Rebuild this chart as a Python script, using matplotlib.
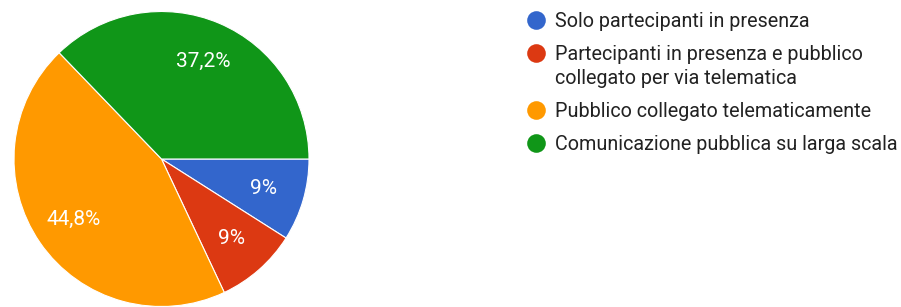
import matplotlib.pyplot as plt

plt.rcParams['font.family'] = ['Roboto', 'DejaVu Sans']

labels = [
    "Solo partecipanti in presenza",
    "Partecipanti in presenza e pubblico\ncollegato per via telematica",
    "Pubblico collegato telematicamente",
    "Comunicazione pubblica su larga scala",
]
values = [9.0, 9.0, 44.8, 37.2]
pct_text = ["9%", "9%", "44,8%", "37,2%"]
colors = ["#3366cc", "#dc3912", "#ff9900", "#109618"]

W, H = 901, 307
fig = plt.figure(figsize=(W / 100, H / 100), dpi=100)

# pie axes, square in pixels
cx, cy, r = 161.5, 148, 147.5
ax = fig.add_axes([(cx - r) / W, (cy - r) / H, 2 * r / W, 2 * r / H])
wedges, texts = ax.pie(
    values,
    colors=colors,
    startangle=0,
    counterclock=False,
    labels=pct_text,
    labeldistance=0.72,
    wedgeprops=dict(edgecolor="white", linewidth=0.8),
    textprops=dict(color="white", fontsize=15),
)
for t in texts:
    t.set_ha("center")
    t.set_va("center")
ax.set_xlim(-1, 1)
ax.set_ylim(-1, 1)
ax.set_aspect("auto")
ax.axis("off")

# legend drawn by hand so the marker sits on the first line
lax = fig.add_axes([0, 0, 1, 1])
lax.set_xlim(0, W)
lax.set_ylim(H, 0)
lax.axis("off")
y = 20
for lab, col in zip(labels, colors):
    lax.scatter([536], [y], s=180, color=col, linewidths=0, zorder=3)
    for i, line in enumerate(lab.split("\n")):
        lax.text(555, y + 7 + i * 24, line, fontsize=14.2, color="#222222",
                 va="baseline", ha="left")
    y += 33 + lab.count("\n") * 24

fig.savefig("out.png", dpi=100)
